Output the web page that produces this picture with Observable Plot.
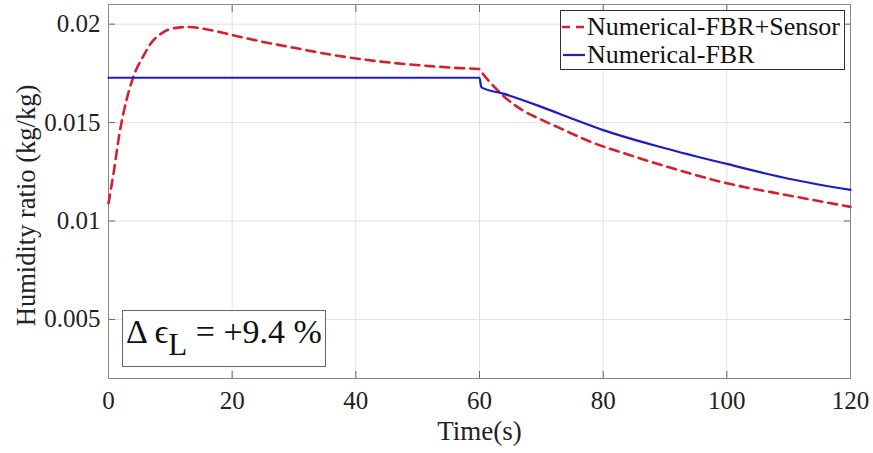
<!DOCTYPE html>
<html>
<head>
<meta charset="utf-8">
<script src="https://cdn.jsdelivr.net/npm/d3@7"></script>
<script src="https://cdn.jsdelivr.net/npm/@observablehq/plot@0.6"></script>
<style>
  html, body { margin: 0; padding: 0; background: #fff; }
  #wrap { position: relative; width: 873px; height: 453px; font-family: "Liberation Serif", "DejaVu Serif", serif; }
  #legend { position: absolute; left: 560px; top: 10px; width: 285px; height: 60px; border: 1px solid #333; background: #fff; box-sizing: border-box; font-size: 26px; color: #111; }
  .li { position: absolute; left: 0; height: 30px; display: flex; align-items: center; white-space: nowrap; }
  .li svg { display: block; margin-right: 1px; }
  #annot { position: absolute; left: 122px; top: 310px; width: 204px; height: 57px; border: 1px solid #666; background: #fff; box-sizing: border-box; font-size: 34px; color: #111; white-space: nowrap; }
  #annot span.t { position: absolute; left: 3px; top: 2px; }
  #annot sub { font-size: 31px; vertical-align: -12px; line-height: 0; }
</style>
</head>
<body>
<div id="wrap"></div>
<script>
// Time (s)
const tSensor = [0,0.9,1.7,2.5,3.3,4.1,5.5,6.8,8.7,10.6,13,16,20,25,30,36,44,52,56,60,60.5,61.5,63,64.5,67,70,73,78,84,90,100,110,120];
// Humidity ratio (kg/kg), Numerical-FBR+Sensor
const hSensor = [0.0109,0.0126,0.0143,0.0156,0.0166,0.0174,0.0183,0.0190,0.01956,0.0198,0.01986,0.01973,0.01945,0.0191,0.0188,0.01845,0.0181,0.01787,0.01778,0.01772,0.0175,0.01712,0.01662,0.01618,0.01562,0.01515,0.01472,0.01402,0.01338,0.01279,0.01192,0.0113,0.01072];
// Numerical-FBR
const tFBR = [0,60,60.3,64,70,75,80,90,100,110,120];
const hFBR = [0.01728,0.01728,0.01679,0.01646,0.0158,0.0152,0.01462,0.0137,0.0129,0.01215,0.01158];

const xTicks = [0,20,40,60,80,100,120];
const yTicks = [0.005,0.01,0.015,0.02];
const yTickLabels = ["0.005","0.01","0.015","0.02"];
const seriesNames = ["Numerical-FBR+Sensor","Numerical-FBR"];
const xLabel = "Time(s)";
const yLabel = "Humidity ratio (kg/kg)";
const annotText = "+9.4 %";

const sensor = tSensor.map((t,i)=>({t, h:hSensor[i]}));
const fbr = tFBR.map((t,i)=>({t, h:hFBR[i]}));

const font = '"Liberation Serif", "DejaVu Serif", serif';
const plot = Plot.plot({
  width: 873, height: 453,
  marginLeft: 108, marginRight: 23, marginTop: 4, marginBottom: 75,
  style: {fontFamily: font, fontSize: "25px", color: "#222", background: "#fff"},
  x: {domain: [0,120]},
  y: {domain: [0.002, 0.021]},
  marks: [
    Plot.gridX(xTicks, {stroke: "#e2e2e2", strokeOpacity: 1}),
    Plot.gridY(yTicks, {stroke: "#e2e2e2", strokeOpacity: 1}),
    Plot.axisX(xTicks, {tickSize: -7, tickPadding: 20, stroke: "#666", fill: "#222", fontSize: 25, label: null}),
    Plot.axisX(xTicks, {anchor: "top", tickSize: -7, text: null, stroke: "#666", label: null}),
    Plot.axisY(yTicks, {tickSize: -7, tickPadding: 15, stroke: "#666", fill: "#222", fontSize: 25, label: null,
      tickFormat: (d) => yTickLabels[yTicks.indexOf(d)]}),
    Plot.axisY(yTicks, {anchor: "right", tickSize: -7, text: null, stroke: "#666", label: null}),
    Plot.frame({stroke: "#888"}),
    Plot.line(sensor, {x: "t", y: "h", stroke: "#d8202c", strokeWidth: 2.6, strokeDasharray: "9,6", curve: "monotone-x"}),
    Plot.line(fbr, {x: "t", y: "h", stroke: "#1c1cc8", strokeWidth: 2.2, curve: "monotone-x"}),
    Plot.text([xLabel], {frameAnchor: "bottom", dy: 61, fontSize: 27, fill: "#222"}),
    Plot.text([yLabel], {frameAnchor: "left", dx: -82, dy: 14, rotate: -90, textAnchor: "middle", fontSize: 26.5, fill: "#222"})
  ]
});
const wrap = document.getElementById("wrap");
wrap.appendChild(plot);

const legend = document.createElement("div");
legend.id = "legend";
legend.innerHTML = `
  <div class="li" style="top:1px"><svg width="25" height="10"><line x1="1" y1="5" x2="25" y2="5" stroke="#d8202c" stroke-width="2.6" stroke-dasharray="8,6"/></svg>${seriesNames[0]}</div>
  <div class="li" style="top:29px"><svg width="25" height="10"><line x1="2" y1="5" x2="24" y2="5" stroke="#1c1cc8" stroke-width="2.2"/></svg>${seriesNames[1]}</div>`;
wrap.appendChild(legend);

const annot = document.createElement("div");
annot.id = "annot";
annot.innerHTML = `<span class="t">Δ ϵ<sub>L</sub> = ${annotText}</span>`;
wrap.appendChild(annot);
</script>
</body>
</html>
